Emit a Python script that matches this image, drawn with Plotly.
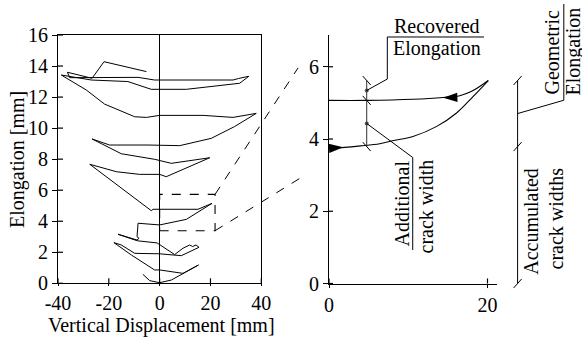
import plotly.graph_objects as go

W, H = 582, 343

# ---- left panel: elongation vs. vertical displacement over the whole test ----
upper_disp = [-5.2, -21.9, -26.6, -36.3, -35.4, -26.9, -8.5, -2.0, 28.9, 31.1, 35.1, 31.5, 10.5,
              -3.3, -12.5, -26.9, -38.7, -28.9, -21.7, -9.8, -5.2, 0.0, 17.1, 28.9, 38.0]
upper_elong = [13.64, 14.28, 13.21, 13.60, 13.25, 13.25, 13.27, 13.10, 13.10, 13.20, 13.34, 12.89, 12.50,
               12.50, 13.00, 13.10, 13.42, 12.46, 11.55, 10.73, 10.69, 10.82, 10.82, 10.69, 10.95]
middle_disp = [38.0, 29.5, 20.3, 7.9, -4.6, -19.7, -26.6, -20.5, -15.1, -2.0, 4.6, 19.7,
               2.6, 0.0, -7.9, -17.0, -21.6, -27.5]
middle_elong = [10.95, 10.10, 9.34, 8.87, 8.91, 8.91, 9.30, 8.80, 8.35, 7.99, 7.73, 8.09,
                6.87, 7.02, 7.02, 7.19, 7.41, 7.67]
lower_disp = [-27.5, -3.3, -2.6, 0.0, 15.1, 20.6, 10.5, 0.0, -8.5, -8.9, -8.1, -8.9,
              -16.4, -8.8, -1.0, 5.9]
lower_elong = [7.67, 4.68, 4.77, 4.77, 4.77, 5.15, 4.12, 3.76, 3.87, 3.00, 2.90, 2.79,
               3.16, 2.74, 2.60, 1.85]
base_disp = [5.9, 9.2, 11.8, 13.0, 14.3, 15.5, 8.5, 0.0, -9.8, -15.1, -18.0, -11.1, -2.0,
             0.0, 9.2, 15.3, 9.2, 4.6, 0.0, -3.9, -6.6]
base_elong = [1.85, 2.26, 2.47, 2.37, 2.47, 2.32, 1.78, 1.90, 1.93, 2.47, 2.62, 1.82, 0.86,
              0.86, 0.64, 1.18, 0.64, 0.21, 0.04, 0.17, 0.58]

# detail window marked in the left panel
detail_disp = [0.0, 21.8]
detail_elong = [3.39, 5.73]

left_xticks = [-40, -20, 0, 20, 40]
left_xlabels = ["-40", "-20", "0", "20", "40"]
left_yticks = [0, 2, 4, 6, 8, 10, 12, 14, 16]

# ---- right panel: one schematic load cycle ----
load_disp = [0.0, 2.0, 4.0, 6.4, 8.0, 10.6, 13.6, 16.1, 18.2, 20.1]
load_elong = [3.75, 3.77, 3.81, 3.87, 3.95, 4.07, 4.35, 4.72, 5.18, 5.62]
unload_disp = [20.1, 18.0, 16.5, 14.4, 10.6, 4.76, 0.0]
unload_elong = [5.62, 5.32, 5.20, 5.15, 5.10, 5.07, 5.07]

right_xticks = [0, 20]
right_yticks = [0, 2, 4, 6]

start_elong = 3.79     # elongation at start of the cycle
peak_elong = 5.62      # elongation at peak displacement
residual_elong = 5.07  # elongation after unloading

# ---- page geometry (pixels) ----
L_X0, L_X1, L_Y0, L_Y1 = 58.0, 261.3, 283.3, 35.0
R_X0, R_X1, R_Y0, R_Y1 = 329.0, 497.0, 283.5, 35.0
L_XR, L_YR = (-40, 40), (0, 16)
R_XR, R_YR = (0, 21.2), (0, 6.88)

FONT = "Liberation Serif, Times New Roman, Times, Nimbus Roman, DejaVu Serif, serif"
FS = 20


def lpx(x):
    return L_X0 + (x - L_XR[0]) / (L_XR[1] - L_XR[0]) * (L_X1 - L_X0)


def lpy(y):
    return L_Y0 - (y - L_YR[0]) / (L_YR[1] - L_YR[0]) * (L_Y0 - L_Y1)


def rpx(x):
    return R_X0 + (x - R_XR[0]) / (R_XR[1] - R_XR[0]) * (R_X1 - R_X0)


def rpy(y):
    return R_Y0 - (y - R_YR[0]) / (R_YR[1] - R_YR[0]) * (R_Y0 - R_Y1)


def pp(xp, yp):
    return xp / W, 1 - yp / H


def path(points, dash="solid", width=1.0, color="black"):
    d = ""
    for i, (xp, yp) in enumerate(points):
        px_, py_ = pp(xp, yp)
        d += ("M" if i == 0 else "L") + f"{px_:.5f},{py_:.5f} "
    return dict(type="path", xref="paper", yref="paper", path=d.strip(),
                line=dict(color=color, width=width, dash=dash))


fig = go.Figure()

line_style = dict(color="black", width=1.0)
for xs, ys in [(upper_disp, upper_elong), (middle_disp, middle_elong),
               (lower_disp, lower_elong), (base_disp, base_elong)]:
    fig.add_trace(go.Scatter(x=xs, y=ys, mode="lines", line=line_style,
                             xaxis="x", yaxis="y", showlegend=False, hoverinfo="skip"))

fig.add_trace(go.Scatter(x=load_disp, y=load_elong, mode="lines", line=dict(color="black", width=1.1, shape="spline"),
                         xaxis="x2", yaxis="y2", showlegend=False, hoverinfo="skip"))
fig.add_trace(go.Scatter(x=unload_disp, y=unload_elong, mode="lines", line=dict(color="black", width=1.1, shape="spline"),
                         xaxis="x2", yaxis="y2", showlegend=False, hoverinfo="skip"))

# direction arrows on the cycle
fig.add_trace(go.Scatter(x=[1.8, 14.4], y=[3.77, 5.14], mode="markers",
                         marker=dict(symbol="arrow", size=15, angle=[86, 268], color="black",
                                     line=dict(width=0)),
                         xaxis="x2", yaxis="y2", showlegend=False, hoverinfo="skip", cliponaxis=False))

# marker dots at mid-points of the dimension lines
bracket_x = 4.76
outer_x = 23.8
dot_x = [bracket_x, bracket_x, outer_x]
dot_y = [(peak_elong + residual_elong) / 2, (residual_elong + start_elong) / 2, (peak_elong + start_elong) / 2]
fig.add_trace(go.Scatter(x=dot_x, y=dot_y, mode="markers",
                         marker=dict(size=4, color="#555555"),
                         xaxis="x2", yaxis="y2", showlegend=False, hoverinfo="skip", cliponaxis=False))

shapes = []

# detail window and its connectors to the right panel
shapes.append(dict(type="rect", xref="x", yref="y", x0=detail_disp[0], x1=detail_disp[1],
                   y0=detail_elong[0], y1=detail_elong[1],
                   line=dict(color="black", width=1.1, dash="dash")))
shapes.append(path([(lpx(detail_disp[1]), lpy(detail_elong[1])), (rpx(-3.9), rpy(5.97))], dash="dash", width=1.0))
shapes.append(path([(lpx(detail_disp[1]), lpy(detail_elong[0])), (rpx(-2.8), rpy(3.03))], dash="dash", width=1.0))

# inner halves of the crossing tick marks
for v in left_yticks:
    shapes.append(path([(lpx(L_XR[0]), lpy(v)), (lpx(L_XR[0]) + 5, lpy(v))], width=1.2))
for v in left_xticks:
    shapes.append(path([(lpx(v), lpy(0)), (lpx(v), lpy(0) - 5)], width=1.2))
for v in right_yticks:
    shapes.append(path([(rpx(0), rpy(v)), (rpx(0) + 4, rpy(v))], width=1.2))
for v in right_xticks:
    shapes.append(path([(rpx(v), rpy(0)), (rpx(v), rpy(0) - 5)], width=1.2))

# dimension line for the cycle
bx = rpx(bracket_x)
shapes.append(path([(bx, rpy(peak_elong)), (bx, rpy(start_elong))], width=1.0, color="#333333"))
for yv in [peak_elong, residual_elong, start_elong]:
    shapes.append(path([(bx - 4, rpy(yv) - 4.5), (bx + 4, rpy(yv) + 4.5)], width=1.0))

# dimension line for the total elongation
ox = rpx(outer_x)
shapes.append(path([(ox, rpy(peak_elong)), (ox, rpy(0))], width=1.0))
for yv in [peak_elong, start_elong, 0]:
    shapes.append(path([(ox - 4, rpy(yv) + 4.5), (ox + 4, rpy(yv) - 4.5)], width=1.0))

# leader lines
d1 = rpy(dot_y[0])
shapes.append(path([(bx, d1), (bx + 20.6, d1 - 11.4), (bx + 20.6, 37), (484, 37)], width=1.0))
d2 = rpy(dot_y[1])
shapes.append(path([(bx, d2), (bx + 46, d2 + 34), (bx + 46, 250)], width=1.0))
d3 = rpy(dot_y[2])
shapes.append(path([(ox, d3), (ox + 46.2, d3 - 13.3), (ox + 46.2, 4)], width=1.0))

annotations = []


def label(text, xp, yp, angle=0):
    x, y = pp(xp, yp)
    annotations.append(dict(text=text, x=x, y=y, xref="paper", yref="paper", showarrow=False,
                            textangle=angle, xanchor="center", yanchor="middle",
                            font=dict(family=FONT, size=FS, color="black")))


label("Recovered", 437, 26)
label("Elongation", 437, 49)
label("Additional", 401.5, 204, -90)
label("crack width", 425, 206.5, -90)
label("Geometric", 551, 52.5, -90)
label("Elongation", 573, 51.5, -90)
label("Accumulated", 530.3, 221.5, -90)
label("crack widths", 555, 218.5, -90)
label("Elongation [mm]", 17, 160, -90)
label("Vertical Displacement [mm]", 161, 325.5)

axis_common = dict(showgrid=False, showline=True, linecolor="black", linewidth=1.2,
                   tickfont=dict(family=FONT, size=FS, color="black"),
                   ticks="outside", tickcolor="black", tickwidth=1.2, automargin=False)

fig.update_layout(
    width=W, height=H,
    margin=dict(l=0, r=0, t=0, b=0, pad=0, autoexpand=False),
    font=dict(family=FONT, size=FS, color="black"),
    paper_bgcolor="white", plot_bgcolor="white",
    xaxis=dict(domain=[L_X0 / W, L_X1 / W], range=list(L_XR), anchor="y",
               tickmode="array", tickvals=left_xticks, ticktext=left_xlabels, ticklen=2,
               mirror=True, zeroline=True, zerolinecolor="black", zerolinewidth=1.0, **axis_common),
    yaxis=dict(domain=[1 - L_Y0 / H, 1 - L_Y1 / H], range=list(L_YR), anchor="x",
               tickmode="array", tickvals=left_yticks, ticklen=5,
               mirror=True, zeroline=False, **axis_common),
    xaxis2=dict(domain=[R_X0 / W, R_X1 / W], range=list(R_XR), anchor="y2",
                tickmode="array", tickvals=right_xticks, ticklen=3, zeroline=False, **axis_common),
    yaxis2=dict(domain=[1 - R_Y0 / H, 1 - R_Y1 / H], range=list(R_YR), anchor="x2",
                tickmode="array", tickvals=right_yticks, ticklen=5, zeroline=False, **axis_common),
    shapes=shapes,
    annotations=annotations,
)

fig.write_html("out.html")
